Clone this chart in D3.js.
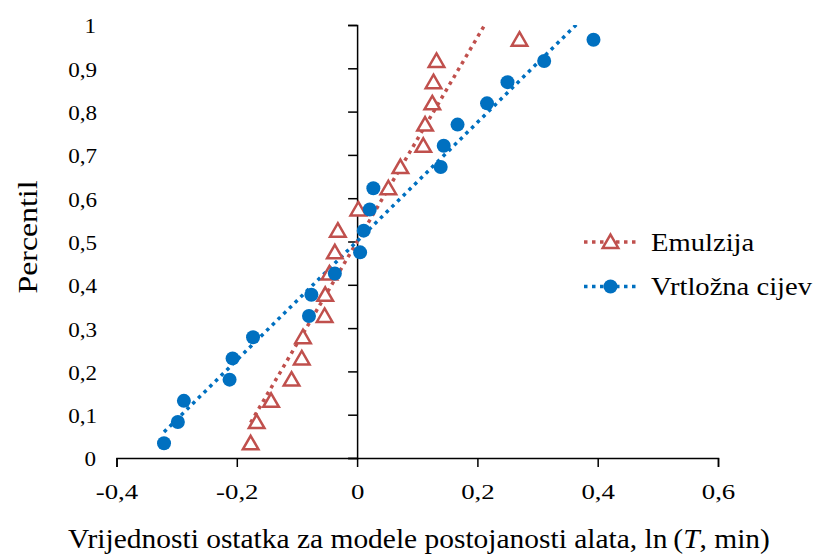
<!DOCTYPE html>
<html><head><meta charset="utf-8">
<script src="https://cdn.jsdelivr.net/npm/d3@7"></script>
<style>body{margin:0;background:#fff}svg{display:block}</style>
</head><body><svg id="c" width="818" height="556"></svg>
<script>
const percentiles = [0.034,0.083,0.132,0.181,0.230,0.279,0.328,0.377,0.426,0.475,0.525,0.574,0.623,0.672,0.721,0.770,0.819,0.868,0.917,0.966];
const emulzija = [-0.177,-0.167,-0.143,-0.109,-0.092,-0.090,-0.054,-0.053,-0.046,-0.037,-0.032,0.002,0.052,0.072,0.110,0.113,0.125,0.127,0.132,0.270];
const vrtlozna = [-0.321,-0.298,-0.288,-0.212,-0.207,-0.173,-0.080,-0.076,-0.037,0.005,0.011,0.021,0.027,0.139,0.144,0.167,0.216,0.250,0.311,0.393];
const xTicks = [-0.4,-0.2,0,0.2,0.4,0.6];
const yTicks = [0,0.1,0.2,0.3,0.4,0.5,0.6,0.7,0.8,0.9,1];
const seriesNames = ["Emulzija","Vrtložna cijev"];
const colors = ["#C0504D","#0070C0"];
const FONT = '"Liberation Serif"';

const svg = d3.select("#c");
const x = d3.scaleLinear().domain([-0.4,0.6]).range([116.5,718]);
const y = d3.scaleLinear().domain([0,1]).range([458,25]);
const fmt = d => d===0 ? "0" : String(d).replace(".",",");

function font(sel,size){ sel.attr("font-family",FONT).attr("font-size",size).style("font-family",FONT).style("font-size",size+"px").attr("fill","#000"); return sel; }
function stretch(sel, sx){
  sel.each(function(){
    const t=d3.select(this);
    const ax=+t.attr("x")||0;
    const prev=t.attr("transform")||"";
    t.attr("transform",`${prev} translate(${ax},0) scale(${sx},1) translate(${-ax},0)`);
  });
}

svg.append("defs").append("clipPath").attr("id","pc").append("rect")
  .attr("x",x(-0.4)).attr("y",y(1)).attr("width",x(0.6)-x(-0.4)).attr("height",y(0)-y(1));

const xAxis = svg.append("g").attr("transform",`translate(0,${y(0)})`)
  .call(d3.axisBottom(x).tickValues(xTicks).tickFormat(fmt).tickSize(9).tickPadding(10));
const yAxis = svg.append("g").attr("transform",`translate(${x(0)},0)`)
  .call(d3.axisLeft(y).tickValues(yTicks).tickFormat(fmt).tickSize(9).tickPadding(0));
[xAxis,yAxis].forEach(g=>{
  g.attr("font-family",FONT);
  g.select(".domain").attr("stroke","#000").attr("stroke-width",1.5);
  g.selectAll(".tick line").attr("stroke","#000").attr("stroke-width",1.5);
  font(g.selectAll(".tick text"),22);
});
yAxis.selectAll(".tick text").attr("x",d=> (d===0||d===1 ? 96 : 97) - x(0)).attr("text-anchor","end").attr("dy","0.36em");
xAxis.selectAll(".tick text").attr("dy","1.0em").attr("x",0);
stretch(xAxis.selectAll(".tick text"),1.22);
stretch(yAxis.selectAll(".tick text"),1.05);

function reg(xs,ys){
  const mx=d3.mean(xs), my=d3.mean(ys);
  let sxy=0,sxx=0; xs.forEach((v,i)=>{sxy+=(v-mx)*(ys[i]-my);sxx+=(v-mx)*(v-mx);});
  const b=sxy/sxx, a=my-b*mx;
  const [x0,x1]=d3.extent(xs);
  return [[x0,a+b*x0],[x1,a+b*x1]];
}
const data=[emulzija,vrtlozna];
const line=d3.line().x(d=>x(d[0])).y(d=>y(d[1]));
const plot=svg.append("g").attr("clip-path","url(#pc)");
data.forEach((xs,i)=>{
  plot.append("path").attr("d",line(reg(xs,percentiles))).attr("fill","none")
    .attr("stroke",colors[i]).attr("stroke-width",3.5).attr("stroke-dasharray","3.5,4.5");
});
const tri = d3.symbol().type(d3.symbolTriangle).size(105);
svg.append("g").selectAll("path").data(emulzija).join("path")
  .attr("d",tri).attr("transform",(d,i)=>`translate(${x(d)},${y(percentiles[i])+1.5})`)
  .attr("fill","#fff").attr("stroke",colors[0]).attr("stroke-width",2.5);
svg.append("g").selectAll("circle").data(vrtlozna).join("circle")
  .attr("cx",d=>x(d)).attr("cy",(d,i)=>y(percentiles[i])).attr("r",7).attr("fill",colors[1]);

const lg=svg.append("g");
seriesNames.forEach((n,i)=>{
  const yy=242+i*44.5;
  lg.append("line").attr("x1",584).attr("x2",637).attr("y1",yy).attr("y2",yy)
    .attr("stroke",colors[i]).attr("stroke-width",3.5).attr("stroke-dasharray","3.5,4.5");
  if(i===0) lg.append("path").attr("d",tri).attr("transform",`translate(610.5,${yy+1.5})`)
    .attr("fill","#fff").attr("stroke",colors[0]).attr("stroke-width",2.5);
  else lg.append("circle").attr("cx",610.5).attr("cy",yy).attr("r",7).attr("fill",colors[1]);
  const t=font(lg.append("text"),26).attr("x",651).attr("y",yy+9).text(n);
  stretch(t,1.1);
});

const xt=font(svg.append("text"),27).attr("x",419).attr("y",548).attr("text-anchor","middle");
xt.append("tspan").text("Vrijednosti ostatka za modele postojanosti alata, ln\u2009(");
xt.append("tspan").style("font-style","italic").text("T");
xt.append("tspan").text(", min)");
stretch(xt, 702/xt.node().getComputedTextLength());
const yt=font(svg.append("text"),27).attr("x",0).attr("y",0).attr("text-anchor","middle").text("Percentil");
yt.attr("transform",`translate(37,237) rotate(-90) scale(${113/yt.node().getComputedTextLength()},1)`);
</script></body></html>
